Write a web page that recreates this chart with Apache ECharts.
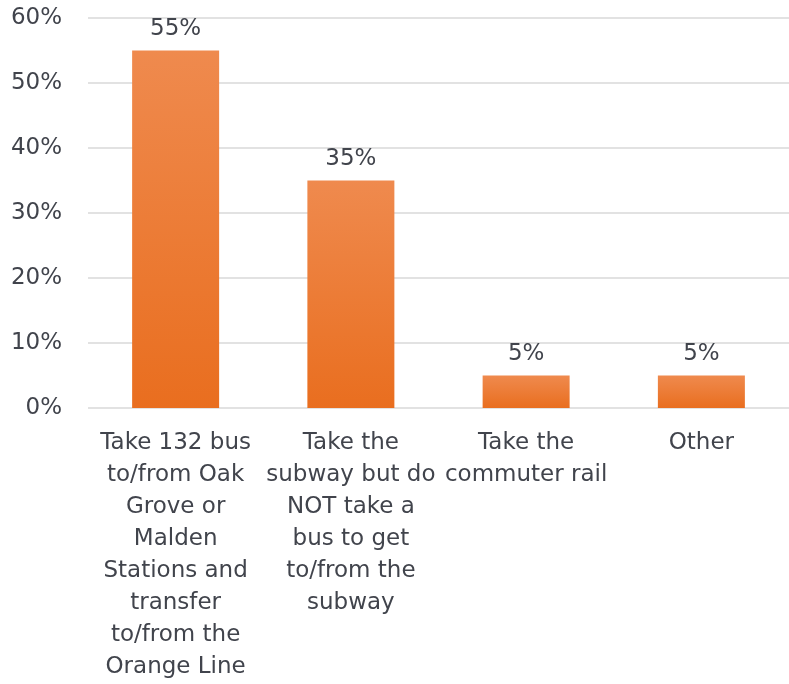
<!DOCTYPE html>
<html>
<head>
<meta charset="utf-8">
<script src="https://cdn.jsdelivr.net/npm/echarts@6/dist/echarts.min.js"></script>
<style>
  html, body { margin: 0; padding: 0; background: #ffffff; }
  #chart { width: 789px; height: 684px; }
</style>
</head>
<body>
<div id="chart"></div>
<script>
// How respondents travel: share choosing each option
const categories = [
  'Take 132 bus\nto/from Oak\nGrove or\nMalden\nStations and\ntransfer\nto/from the\nOrange Line',
  'Take the\nsubway but do\nNOT take a\nbus to get\nto/from the\nsubway',
  'Take the\ncommuter rail',
  'Other'
];
const shares = [55, 35, 5, 5];
const yTicks = { min: 0, max: 60, interval: 10 };

const textColor = '#41444c';
const fontFamily = '"DejaVu Sans", sans-serif';

const chart = echarts.init(document.getElementById('chart'), null, { renderer: 'canvas' });
chart.setOption({
  animation: false,
  backgroundColor: '#ffffff',
  grid: { left: 88, top: 18, width: 704, bottom: 276, containLabel: false },
  xAxis: {
    type: 'category',
    data: categories,
    axisLine: { show: false },
    axisTick: { show: false },
    axisLabel: {
      interval: 0,
      margin: 19,
      color: textColor,
      fontFamily: fontFamily,
      fontSize: 23,
      lineHeight: 32,
      align: 'center'
    }
  },
  yAxis: {
    type: 'value',
    min: yTicks.min,
    max: yTicks.max,
    interval: yTicks.interval,
    axisLine: { show: false },
    axisTick: { show: false },
    splitLine: { lineStyle: { color: '#d9d9d9', width: 1.5 } },
    axisLabel: {
      margin: 26,
      color: textColor,
      fontFamily: fontFamily,
      fontSize: 23,
      formatter: v => v + '%'
    }
  },
  series: [{
    type: 'bar',
    data: shares,
    barWidth: 87,
    itemStyle: {
      color: new echarts.graphic.LinearGradient(0, 0, 0, 1, [
        { offset: 0, color: '#ef8a4e' },
        { offset: 1, color: '#e96e1f' }
      ])
    },
    label: {
      show: true,
      position: 'top',
      distance: 10,
      color: textColor,
      fontFamily: fontFamily,
      fontSize: 23,
      formatter: p => p.value + '%'
    }
  }]
});
</script>
</body>
</html>
